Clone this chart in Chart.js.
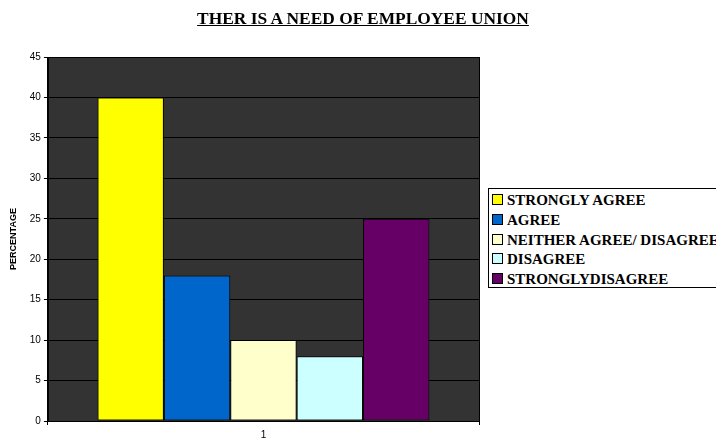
<!DOCTYPE html>
<html>
<head>
<meta charset="utf-8">
<script src="https://cdn.jsdelivr.net/npm/chart.js@4"></script>
<style>
  body { margin: 0; background: #fff; }
  #wrap { position: relative; width: 716px; height: 440px; overflow: hidden; }
  #myChart { position: absolute; left: 0; top: 0; }
  #title { position: absolute; left: 0; top: 8px; width: 726px; text-align: center;
    font: bold 17.4px "Liberation Serif", "Times New Roman", serif; text-decoration: underline; color: #000; }
  #legend { position: absolute; left: 488px; top: 188px; width: 240px; height: 100px;
    border: 1px solid #000; box-sizing: border-box; background: #fff; padding: 2px 0 0 3px;
    font: bold 15px "Liberation Serif", "Times New Roman", serif; color: #000; white-space: nowrap; }
  #legend div { height: 19.8px; line-height: 19.8px; }
  #legend span { display: inline-block; width: 9px; height: 9px; border: 1px solid #000; margin-right: 4px; vertical-align: 0px; }
</style>
</head>
<body>
<div id="wrap">
  <canvas id="myChart" width="716" height="446"></canvas>
  <div id="title">THER IS A NEED OF EMPLOYEE UNION</div>
  <div id="legend"></div>
</div>
<script>
const categories = ['1'];
const seriesNames = ['STRONGLY AGREE', 'AGREE', 'NEITHER AGREE/ DISAGREE', 'DISAGREE', 'STRONGLYDISAGREE'];
const seriesValues = [40, 18, 10, 8, 25];
const seriesColors = ['#FFFF00', '#0066CC', '#FFFFCC', '#CCFFFF', '#660066'];

const plotBg = {
  id: 'plotBg',
  beforeDraw(chart) {
    const a = chart.chartArea, c = chart.ctx;
    c.save();
    c.fillStyle = '#333333';
    c.fillRect(a.left, a.top, a.right - a.left, a.bottom - a.top);
    c.restore();
  },
  afterDraw(chart) {
    const a = chart.chartArea, c = chart.ctx;
    c.save();
    c.strokeStyle = '#000';
    c.lineWidth = 1;
    c.strokeRect(a.left + 0.5, a.top + 0.5, a.right - a.left, a.bottom - a.top);
    c.restore();
  }
};

const legend = document.getElementById('legend');
seriesNames.forEach((n, i) => {
  const d = document.createElement('div');
  d.innerHTML = '<span style="background:' + seriesColors[i] + '"></span>' + n;
  legend.appendChild(d);
});

const ctx = document.getElementById('myChart').getContext('2d');
new Chart(ctx, {
  type: 'bar',
  data: {
    labels: categories,
    datasets: seriesNames.map((n, i) => ({
      label: n,
      data: [seriesValues[i]],
      backgroundColor: seriesColors[i],
      borderColor: '#000',
      borderWidth: 1,
      borderSkipped: false
    }))
  },
  options: {
    responsive: false,
    animation: false,
    layout: { padding: { top: 57, right: 237, bottom: 1, left: 8 } },
    plugins: { legend: { display: false }, tooltip: { enabled: false } },
    datasets: { bar: { categoryPercentage: 0.77, barPercentage: 1 } },
    scales: {
      x: {
        grid: { display: true, drawOnChartArea: false, color: '#000', tickLength: 4, offset: true },
        border: { color: '#000' },
        ticks: { color: '#000', font: { family: 'Liberation Sans', size: 10 }, padding: 4 }
      },
      y: {
        min: 0, max: 45,
        ticks: { stepSize: 5, color: '#000', font: { family: 'Liberation Sans', size: 10 }, padding: 3 },
        grid: { color: '#000', tickLength: 4 },
        border: { color: '#000' },
        title: { display: true, text: 'PERCENTAGE', color: '#000', font: { family: 'Liberation Sans', size: 9, weight: 'bold' }, padding: { top: 0, bottom: 8 } }
      }
    }
  },
  plugins: [plotBg]
});
</script>
</body>
</html>
